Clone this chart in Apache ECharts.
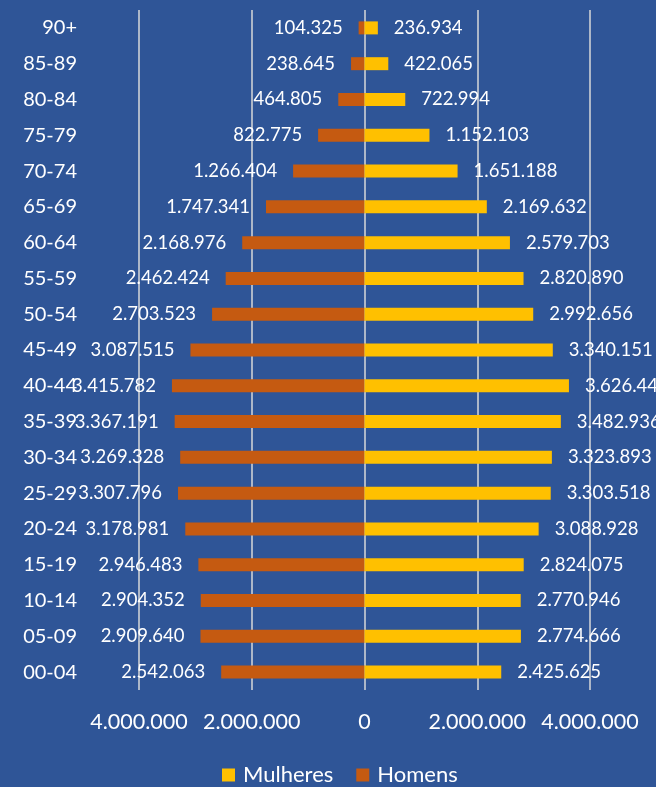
<!DOCTYPE html>
<html><head><meta charset="utf-8">
<script src="https://cdn.jsdelivr.net/npm/echarts@6/dist/echarts.min.js"></script>
<style>html,body{margin:0;padding:0;background:#2F5597;}#c{width:656px;height:787px;}</style>
</head><body><div id="c"></div>
<script>
const categories = ['00-04','05-09','10-14','15-19','20-24','25-29','30-34','35-39','40-44','45-49','50-54','55-59','60-64','65-69','70-74','75-79','80-84','85-89','90+'];
const homens = [2542063,2909640,2904352,2946483,3178981,3307796,3269328,3367191,3415782,3087515,2703523,2462424,2168976,1747341,1266404,822775,464805,238645,104325];
const mulheres = [2425625,2774666,2770946,2824075,3088928,3303518,3323893,3482936,3626441,3340151,2992656,2820890,2579703,2169632,1651188,1152103,722994,422065,236934];
const axisTicks = [-4000000,-2000000,0,2000000,4000000];

function fmt(v){ return String(Math.abs(Math.round(v))).replace(/\B(?=(\d{3})+(?!\d))/g,'.'); }
const FONT = 'Lato';
const chart = echarts.init(document.getElementById('c'));
chart.setOption({
  backgroundColor:'#2F5597',
  animation:false,
  grid:{left:139,right:66,top:10,bottom:97},
  legend:{
    left:217, top:759, itemWidth:13, itemHeight:13, itemGap:23,
    data:['Mulheres','Homens'],
    textStyle:{color:'#FFFFFF', fontFamily:FONT, fontSize:22, padding:[0,0,0,3]},
    icon:'rect'
  },
  xAxis:{
    type:'value', min:axisTicks[0], max:axisTicks[axisTicks.length-1], interval:2000000,
    axisLine:{show:false}, axisTick:{show:false},
    splitLine:{show:true, lineStyle:{color:'#D9D9D9', width:1.5}},
    axisLabel:{color:'#FFFFFF', fontFamily:FONT, fontSize:21.5, margin:21, formatter:v=>fmt(v)}
  },
  yAxis:{
    type:'category', data:categories,
    axisLine:{show:false}, axisTick:{show:false},
    axisLabel:{color:'#FFFFFF', fontFamily:FONT, fontSize:20, margin:62}
  },
  series:[
    {name:'Homens', type:'bar', data:homens.map(v=>-v), barWidth:13, barGap:'-100%',
     itemStyle:{color:'#C55A11'},
     label:{show:true, position:'left', distance:16, color:'#FFFFFF', fontFamily:FONT, fontSize:18.5, formatter:p=>fmt(p.value)}},
    {name:'Mulheres', type:'bar', data:mulheres, barWidth:13, barGap:'-100%',
     itemStyle:{color:'#FFC000'},
     label:{show:true, position:'right', distance:16, color:'#FFFFFF', fontFamily:FONT, fontSize:18.5, formatter:p=>fmt(p.value)}}
  ]
});
</script></body></html>
